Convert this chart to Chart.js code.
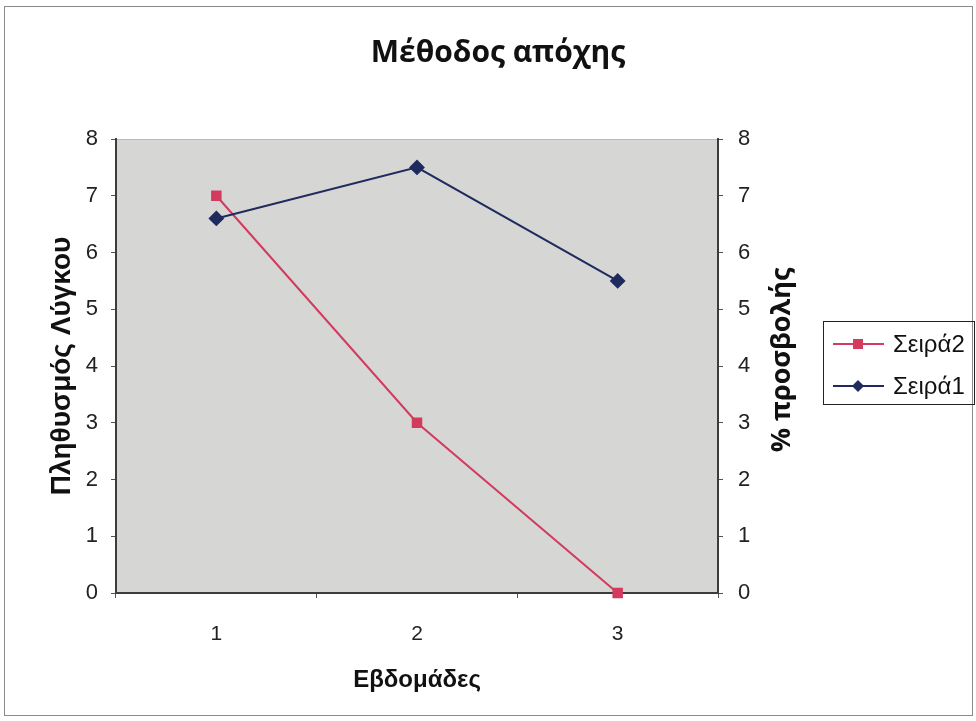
<!DOCTYPE html>
<html>
<head>
<meta charset="utf-8">
<script src="https://cdn.jsdelivr.net/npm/chart.js@4/dist/chart.umd.min.js"></script>
<style>
html,body{margin:0;padding:0;background:#fff;}
#wrap{width:976px;height:721px;}
</style>
</head>
<body>
<div id="wrap"><canvas id="c" width="976" height="721"></canvas></div>
<script>
const categories = ['1', '2', '3'];
const series1 = [6.6, 7.5, 5.5];   // Σειρά1
const series2 = [7, 3, 0];         // Σειρά2
const yTicks = [0, 1, 2, 3, 4, 5, 6, 7, 8];
const chartTitle = 'Μέθοδος απόχης';
const rightTitle = '% προσβολής';

const RED = '#d23a5e';
const BLUE = '#1f2a5e';

const bgPlugin = {
  id: 'bg',
  beforeDraw(chart) {
    const {ctx, chartArea: a} = chart;
    ctx.save();
    ctx.fillStyle = '#fff';
    ctx.fillRect(0, 0, chart.width, chart.height);
    ctx.strokeStyle = '#8a8a8a';
    ctx.lineWidth = 1;
    ctx.strokeRect(4.5, 6.5, 968, 709);
    ctx.fillStyle = '#d6d6d4';
    ctx.fillRect(a.left, a.top, a.right - a.left, a.bottom - a.top);
    ctx.strokeStyle = '#b8b8b8';
    ctx.beginPath();
    ctx.moveTo(a.left, a.top + 0.5);
    ctx.lineTo(a.right, a.top + 0.5);
    ctx.stroke();
    ctx.restore();
  },
  afterDraw(chart) {
    const {ctx} = chart;
    ctx.save();
    // chart title
    ctx.fillStyle = '#111';
    ctx.font = 'bold 30px "Open Sans", sans-serif';
    ctx.textAlign = 'center';
    ctx.textBaseline = 'middle';
    ctx.fillText(chartTitle, 498, 53);
    // right axis title (reads bottom to top)
    const y1 = chart.scales.y1;
    ctx.save();
    ctx.translate(y1.left + 64, (y1.top + y1.bottom) / 2 - 6);
    ctx.rotate(-Math.PI / 2);
    ctx.font = 'bold 27px "Open Sans", sans-serif';
    ctx.fillText(rightTitle, 0, 0);
    ctx.restore();
    // legend
    const bx = 823.5, by = 321.5, bw = 151, bh = 83;
    ctx.strokeStyle = '#222';
    ctx.lineWidth = 1;
    ctx.strokeRect(bx, by, bw, bh);
    const entries = [chart.data.datasets[1], chart.data.datasets[0]];
    const ys = [344, 386];
    entries.forEach((ds, i) => {
      const y = ys[i];
      ctx.strokeStyle = ds.borderColor;
      ctx.lineWidth = 2;
      ctx.beginPath();
      ctx.moveTo(833, y);
      ctx.lineTo(884, y);
      ctx.stroke();
      ctx.fillStyle = ds.borderColor;
      const r = 5;
      if (ds.pointStyle === 'rect') {
        ctx.fillRect(858 - r, y - r, 2 * r, 2 * r);
      } else {
        ctx.beginPath();
        ctx.moveTo(858, y - 6);
        ctx.lineTo(864, y);
        ctx.lineTo(858, y + 6);
        ctx.lineTo(852, y);
        ctx.closePath();
        ctx.fill();
      }
      ctx.fillStyle = '#111';
      ctx.font = '24px "Liberation Sans", Arial, sans-serif';
      ctx.textBaseline = 'middle';
      ctx.textAlign = 'left';
      ctx.fillText(ds.label, 893, y + 1);
    });
    ctx.restore();
  }
};

new Chart(document.getElementById('c'), {
  type: 'line',
  data: {
    labels: categories,
    datasets: [
      {
        label: 'Σειρά1',
        data: series1,
        yAxisID: 'y1',
        borderColor: BLUE,
        backgroundColor: BLUE,
        borderWidth: 2,
        pointStyle: 'rectRot',
        pointRadius: 6.5,
        pointHoverRadius: 6.5,
        tension: 0
      },
      {
        label: 'Σειρά2',
        data: series2,
        yAxisID: 'y',
        borderColor: RED,
        backgroundColor: RED,
        borderWidth: 2,
        pointStyle: 'rect',
        pointRadius: 6,
        pointHoverRadius: 6,
        tension: 0
      }
    ]
  },
  options: {
    responsive: false,
    animation: false,
    events: [],
    clip: false,
    layout: {padding: {left: 0, right: 168, top: 139, bottom: 0}},
    plugins: {
      legend: {display: false},
      tooltip: {enabled: false},
      title: {display: false}
    },
    scales: {
      x: {
        type: 'category',
        offset: true,
        afterFit(s) { s.height = 128; },
        grid: {display: true, drawOnChartArea: false, drawTicks: true, tickLength: 5, offset: true, color: '#555'},
        border: {display: true, color: '#3c3c3c', width: 2},
        ticks: {color: '#222', font: {family: '"Liberation Sans", Arial, sans-serif', size: 21}, padding: 24},
        title: {
          display: true, text: 'Εβδομάδες', color: '#111',
          font: {family: '"Liberation Sans", Arial, sans-serif', size: 24, weight: 'bold'},
          padding: {top: 0, bottom: 26}
        }
      },
      y: {
        position: 'left',
        min: 0, max: 8,
        afterFit(s) { s.width = 116; },
        afterBuildTicks(s) { s.ticks = yTicks.map(v => ({value: v})); },
        grid: {display: true, drawOnChartArea: false, drawTicks: true, tickLength: 5, color: '#555'},
        border: {display: true, color: '#3c3c3c', width: 2},
        ticks: {color: '#222', font: {family: '"Liberation Sans", Arial, sans-serif', size: 22}, padding: 13},
        title: {
          display: true, text: 'Πληθυσμός Λύγκου', color: '#111',
          font: {family: '"Liberation Sans", Arial, sans-serif', size: 28, weight: 'bold'},
          padding: {top: 45, bottom: 0}
        }
      },
      y1: {
        position: 'right',
        min: 0, max: 8,
        afterFit(s) { s.width = 90; },
        afterBuildTicks(s) { s.ticks = yTicks.map(v => ({value: v})); },
        grid: {display: true, drawOnChartArea: false, drawTicks: true, tickLength: 5, color: '#555'},
        border: {display: true, color: '#3c3c3c', width: 2},
        ticks: {color: '#222', font: {family: '"Liberation Sans", Arial, sans-serif', size: 22}, padding: 15},
        title: {display: false}
      }
    }
  },
  plugins: [bgPlugin]
});
</script>
</body>
</html>
